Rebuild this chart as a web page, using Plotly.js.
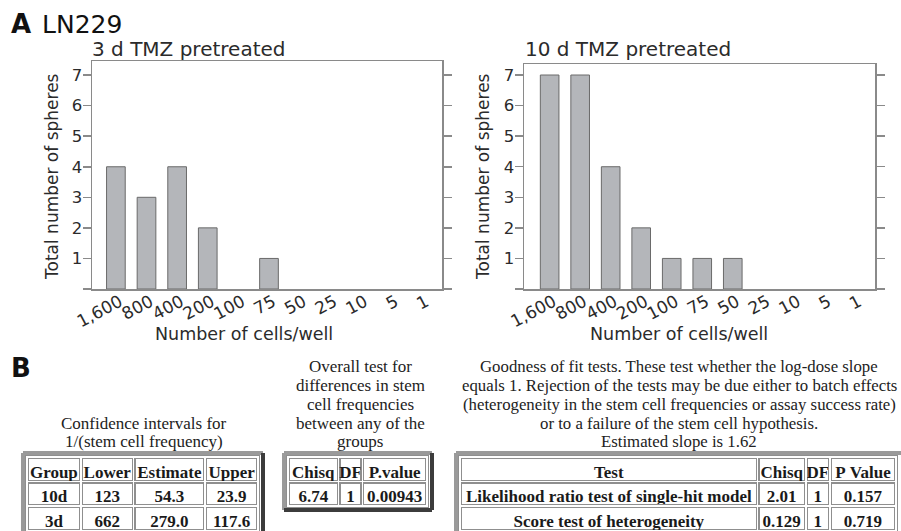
<!DOCTYPE html>
<html>
<head>
<meta charset="utf-8">
<script src="https://cdn.plot.ly/plotly-3.0.1.min.js"></script>
<style>
  html, body { margin: 0; padding: 0; background: #ffffff; }
  #chart { width: 901px; height: 531px; }
</style>
</head>
<body>
<div id="chart"></div>
<script>
// ---------- data ----------
const cellsPerWell = ['1,600','800','400','200','100','75','50','25','10','5','1'];
const spheres3d  = [4, 3, 4, 2, 0, 1, 0, 0, 0, 0, 0];
const spheres10d = [7, 7, 4, 2, 1, 1, 1, 0, 0, 0, 0];
const yTickVals = [0, 1, 2, 3, 4, 5, 6, 7];
const yTickText = ['', '1', '2', '3', '4', '5', '6', '7'];

const ciHeader   = ['Group', 'Lower', 'Estimate', 'Upper'];
const ciGroup    = ['10d', '3d'];
const ciLower    = ['123', '662'];
const ciEstimate = ['54.3', '279.0'];
const ciUpper    = ['23.9', '117.6'];

const ovHeader = ['Chisq', 'DF', 'P.value'];
const ovChisq  = ['6.74'];
const ovDF     = ['1'];
const ovP      = ['0.00943'];

const gofHeader = ['Test', 'Chisq', 'DF', 'P Value'];
const gofTest   = ['Likelihood ratio test of single-hit model', 'Score test of heterogeneity'];
const gofChisq  = ['2.01', '0.129'];
const gofDF     = ['1', '1'];
const gofP      = ['0.157', '0.719'];

// ---------- helpers ----------
const W = 901, H = 531;
const px = x => x / W;
const py = y => 1 - y / H;
// keep table text on one line (non-breaking spaces)
const nb = arr => arr.map(v => String(v).replace(/ /g, '\u00a0'));

const sans = 'DejaVu Sans, Verdana, sans-serif';
const serif = 'Liberation Serif, Times New Roman, serif';
const txt = '#2b2b2b';
const axCol = '#8a8a8a';

function barMarker(vals) {
  return { color: '#b4b6ba', line: { color: '#6a6a6a', width: vals.map(v => v > 0 ? 1 : 0) } };
}

const traces = [
  { type: 'bar', x: cellsPerWell, y: spheres3d, xaxis: 'x', yaxis: 'y', marker: barMarker(spheres3d), hoverinfo: 'none' },
  { type: 'bar', x: cellsPerWell, y: spheres10d, xaxis: 'x2', yaxis: 'y2', marker: barMarker(spheres10d), hoverinfo: 'none' }
];

function makeTable(header, columns, widths, x0, x1, y0, y1, lineColor, lineWidth, showText) {
  const fontColor = showText ? '#1a1a1a' : 'rgba(0,0,0,0)';
  const fill = showText ? '#ffffff' : 'rgba(0,0,0,0)';
  const font = { family: serif, size: 17, color: fontColor, weight: 'bold' };
  return {
    type: 'table',
    domain: { x: [px(x0), px(x1)], y: [py(y1), py(y0)] },
    columnwidth: widths,
    header: {
      values: nb(header),
      align: 'center',
      height: 24.5,
      font: font,
      fill: { color: fill },
      line: { color: lineColor, width: lineWidth }
    },
    cells: {
      values: columns.map(nb),
      align: 'center',
      height: 24.5,
      font: font,
      fill: { color: fill },
      line: { color: lineColor, width: lineWidth }
    }
  };
}

const tableSpecs = [
  [ciHeader, [ciGroup, ciLower, ciEstimate, ciUpper], [54, 53, 72, 53], 27, 259, 457, 531],
  [ovHeader, [ovChisq, ovDF, ovP], [51, 24, 65], 288, 428, 457, 512],
  [gofHeader, [gofTest, gofChisq, gofDF, gofP], [297, 48, 24, 66], 460, 897, 457, 531]
];
tableSpecs.forEach(s => traces.push(makeTable(s[0], s[1], s[2], s[3], s[4], s[5], s[6], '#8f8f8f', 4, true)));
tableSpecs.forEach(s => traces.push(makeTable(s[0], s[1], s[2], s[3], s[4], s[5], s[6], '#ffffff', 1.6, false)));

// ---------- annotations ----------
function ann(text, x, y, opts) {
  return Object.assign({
    text: text, xref: 'paper', yref: 'paper', x: px(x), y: py(y),
    xanchor: 'center', yanchor: 'middle', showarrow: false,
    font: { family: sans, size: 17, color: txt }
  }, opts || {});
}

const annotations = [
  ann('<b>A</b>', 9, 24, { xanchor: 'left', font: { family: sans, size: 26, color: '#111' } }),
  ann('LN229', 40, 24, { xanchor: 'left', font: { family: sans, size: 25, color: '#111' } }),
  ann('3 d TMZ pretreated', 90, 49, { xanchor: 'left', font: { family: sans, size: 20, color: txt } }),
  ann('10 d TMZ pretreated', 523, 49, { xanchor: 'left', font: { family: sans, size: 20, color: txt } }),
  ann('Total number of spheres', 52, 177, { textangle: -90 }),
  ann('Total number of spheres', 483, 177, { textangle: -90 }),
  ann('Number of cells/well', 244, 334, { font: { family: sans, size: 17.5, color: txt } }),
  ann('Number of cells/well', 679, 334, { font: { family: sans, size: 17.5, color: txt } }),
  ann('<b>B</b>', 9, 368, { xanchor: 'left', font: { family: sans, size: 26, color: '#111' } })
];

const serifFont = { family: serif, size: 17, color: '#222' };
const serifFontSm = { family: serif, size: 16.8, color: '#222' };
[['Confidence intervals for', 423], ['1/(stem cell frequency)', 441]].forEach(l =>
  annotations.push(ann(l[0], 144, l[1], { font: serifFont })));
[['Overall test for', 366], ['differences in stem', 385], ['cell frequencies', 404],
 ['between any of the', 423], ['groups', 441]].forEach(l =>
  annotations.push(ann(l[0], 360, l[1], { font: serifFont })));
[['Goodness of fit tests. These test whether the log-dose slope', 366],
 ['equals 1. Rejection of the tests may be due either to batch effects', 385],
 ['(heterogeneity in the stem cell frequencies or assay success rate)', 404],
 ['or to a failure of the stem cell hypothesis.', 423],
 ['Estimated slope is 1.62', 441]].forEach(l =>
  annotations.push(ann(l[0], 679, l[1], { font: serifFontSm })));

// ---------- table frames ----------
const shapes = [];
function frame(x0, x1, y0, y1) {
  const light = { color: '#9a9a9a', width: 4 };
  const dark = { color: '#3c3c3c', width: 4 };
  const L = (a, b, c, d, line) => shapes.push({ type: 'line', xref: 'paper', yref: 'paper',
    x0: px(a), y0: py(b), x1: px(c), y1: py(d), line: line, layer: 'above' });
  L(x0, y0, x1, y0, light);
  L(x0, y0, x0, y1, light);
  L(x1, y0, x1, y1, dark);
  L(x0, y1, x1, y1, dark);
}
frame(23, 263, 453, 536);
frame(284, 432, 453, 510);
frame(456, 905, 453, 536);

// ---------- axes ----------
function xAxis(domain, range) {
  return {
    domain: domain, type: 'category', range: range,
    showline: true, mirror: true, linecolor: axCol, linewidth: 1.5,
    ticks: '', showgrid: false, zeroline: false, fixedrange: true,
    tickangle: -28, ticklabelstandoff: -5, ticklabelshift: 4,
    tickfont: { family: sans, size: 17, color: txt }
  };
}
function yAxis(domain, range) {
  return {
    domain: domain, range: range,
    tickvals: yTickVals, ticktext: yTickText,
    showline: true, mirror: 'ticks', linecolor: axCol, linewidth: 1.5,
    ticks: 'outside', ticklen: 8, tickwidth: 1.5, tickcolor: axCol,
    ticklabelstandoff: -3,
    showgrid: false, zeroline: false, fixedrange: true,
    tickfont: { family: sans, size: 16.5, color: txt }
  };
}

const layout = {
  width: W, height: H,
  margin: { l: 0, r: 0, t: 0, b: 0 },
  paper_bgcolor: '#ffffff', plot_bgcolor: '#ffffff',
  showlegend: false, bargap: 0.39,
  xaxis: Object.assign(xAxis([px(92), px(442)], [-0.78, 10.65]), { anchor: 'y' }),
  yaxis: Object.assign(yAxis([py(289), py(61)], [0, 7.46]), { anchor: 'x' }),
  xaxis2: Object.assign(xAxis([px(524), px(875)], [-0.84, 10.66]), { anchor: 'y2' }),
  yaxis2: Object.assign(yAxis([py(289), py(64)], [0, 7.36]), { anchor: 'x2' }),
  annotations: annotations,
  shapes: shapes
};

Plotly.newPlot('chart', traces, layout, { displayModeBar: false, staticPlot: true });
</script>
</body>
</html>
